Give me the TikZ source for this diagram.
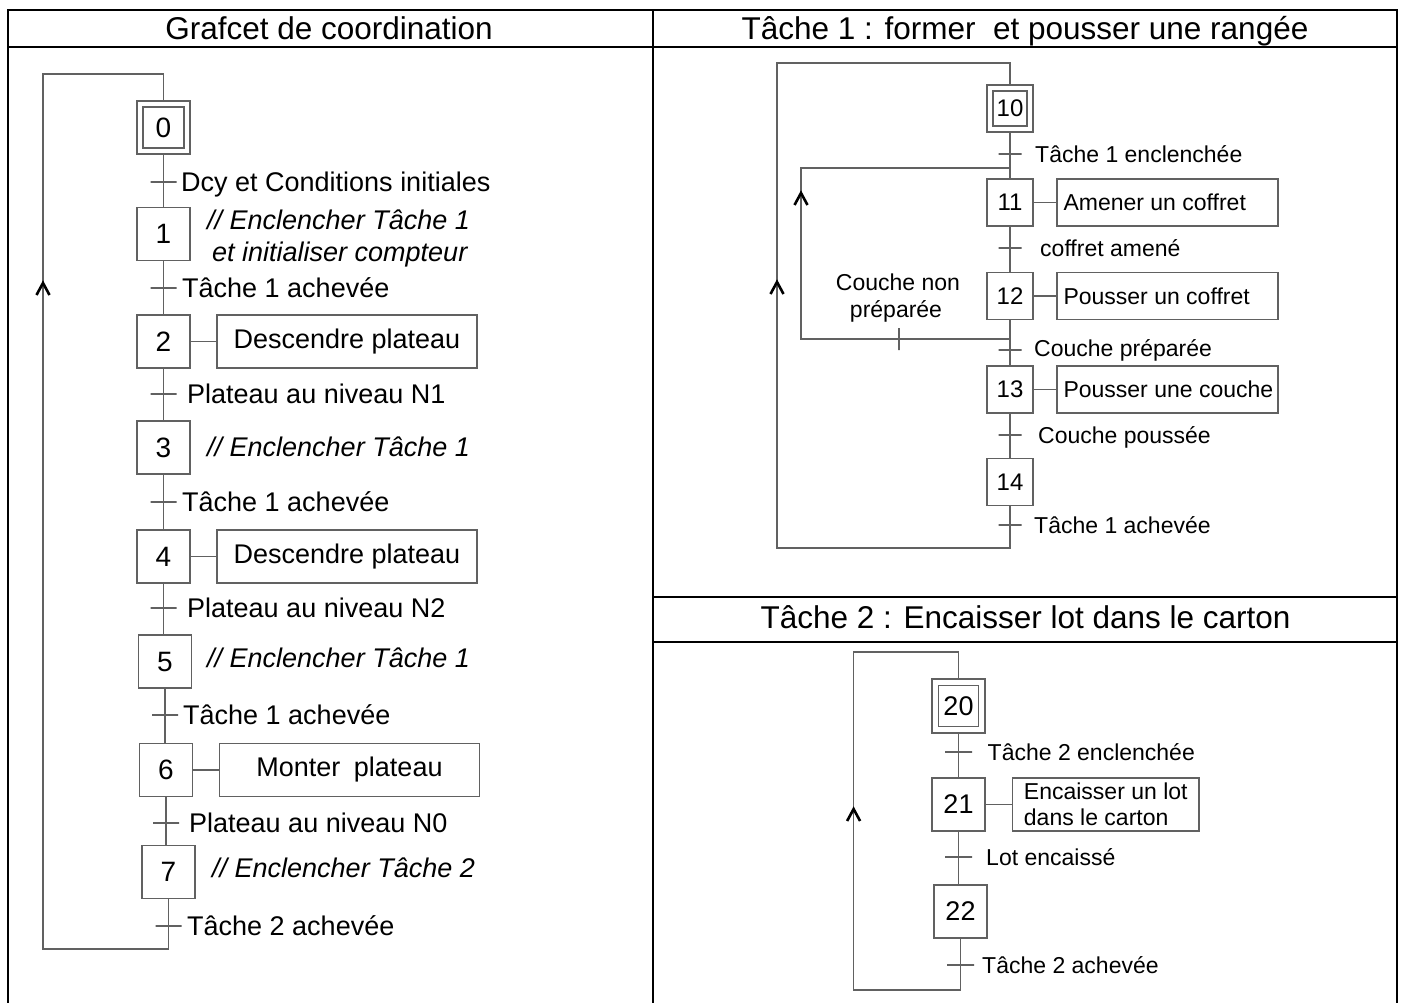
\documentclass[tikz,border=0pt]{standalone}
\usepackage{fontspec}
\setmainfont{Liberation Sans}
\newcommand\fsTitle{\fontsize{31.5}{36}\selectfont}
\newcommand\fsBig{\fontsize{27}{32}\selectfont}
\newcommand\fsNum{\fontsize{28}{32}\selectfont}
\newcommand\fsSmall{\fontsize{23}{26}\selectfont}
\newcommand\fsNumS{\fontsize{24}{26}\selectfont}
\newcommand\fsNumB{\fontsize{27}{30}\selectfont}
\begin{document}
\begin{tikzpicture}[x=1pt,y=-1pt,
  frame/.style={line width=2.6pt, draw=black, line cap=rect},
  lnk/.style={line width=1.3pt, draw=black!62},
  chev/.style={line width=2.6pt, draw=black, line join=miter},
  stepL/.style={lnk, draw, minimum width=53pt, minimum height=53pt, inner sep=0pt, font=\fsNum},
  innerbox/.style={path picture={\draw[lnk] ([shift={(#1,-#1)}]path picture bounding box.north west) rectangle ([shift={(-#1,#1)}]path picture bounding box.south east);}},
  initL/.style={stepL, innerbox=6pt},
  stepR/.style={lnk, draw, minimum width=46pt, minimum height=47pt, inner sep=0pt, font=\fsNumS},
  initR/.style={stepR, innerbox=6pt},
  stepB/.style={lnk, draw, minimum width=53pt, minimum height=53pt, inner sep=0pt, font=\fsNumB},
  initB/.style={stepB, minimum height=54pt, innerbox=6.5pt},
  trH/.style={lnk, draw, minimum width=#1, minimum height=0pt, inner sep=0pt, outer sep=0pt},
  trV/.style={lnk, draw, minimum width=0pt, minimum height=22pt, inner sep=0pt, outer sep=0pt},
  labL/.style={anchor=base west, font=\fsBig, inner sep=0pt},
  labR/.style={anchor=base west, font=\fsSmall, inner sep=0pt},
  actI/.style={anchor=base west, font=\fsBig\itshape, inner sep=0pt},
  actL/.style={lnk, draw, minimum width=260pt, minimum height=53pt, inner sep=0pt, font=\fsBig},
  actR/.style={lnk, draw, minimum width=221pt, minimum height=47pt, inner xsep=6.5pt, inner ysep=0pt, font=\fsSmall},
  actB/.style={lnk, draw, minimum width=186.5pt, minimum height=53pt, inner sep=0pt, align=left, font=\fsSmall},
  ttl/.style={anchor=base, font=\fsTitle, inner sep=0pt}
]
\useasboundingbox (0,0) rectangle (1402,1002);

% ---------- frame ----------
\draw[frame] (8,1012) -- (8,10) -- (1397,10) -- (1397,1012);
\draw[frame] (653,10) -- (653,1012);
\draw[frame] (8,47) -- (1397,47);
\draw[frame] (653,597) -- (1397,597);
\draw[frame] (653,642) -- (1397,642);

\node[ttl] (ttlA) at (329,39.5) {Grafcet de coordination};
\node[ttl] (ttlB) at (1025,39.5) {Tâche 1 : former\ \ et pousser une rangée};
\node[ttl] (ttlC) at (1025.5,628) {Tâche 2 : Encaisser lot dans le carton};

% ---------- Grafcet de coordination ----------
\node[initL] (s0) at (163.5,127.5) {0};
\node[stepL] (s1) at (163.5,234) {1};
\node[stepL] (s2) at (163.5,341.5) {2};
\node[stepL] (s3) at (163.5,447.5) {3};
\node[stepL] (s4) at (163.5,556.5) {4};
\node[stepL] (s5) at (165,661.5) {5};
\node[stepL] (s6) at (166,770) {6};
\node[stepL] (s7) at (168.5,872) {7};

\node[trH=26pt] (t0) at (163.5,182) {};
\node[trH=26pt] (t1) at (163.5,288) {};
\node[trH=26pt] (t2) at (163.5,394) {};
\node[trH=26pt] (t3) at (163.5,502) {};
\node[trH=26pt] (t4) at (163.5,608) {};
\node[trH=26pt] (t5) at (165,715) {};
\node[trH=26pt] (t6) at (166,823) {};
\node[trH=26pt] (t7) at (168.5,926) {};

\node[labL] (l0) at (181,191.5) {Dcy et Conditions initiales};
\node[labL] (l1) at (182,297.5) {Tâche 1 achevée};
\node[labL] (l2) at (187,403.5) {Plateau au niveau N1};
\node[labL] (l3) at (182,511.5) {Tâche 1 achevée};
\node[labL] (l4) at (187,617.5) {Plateau au niveau N2};
\node[labL] (l5) at (183,724.5) {Tâche 1 achevée};
\node[labL] (l6) at (189,832.5) {Plateau au niveau N0};
\node[labL] (l7) at (187,935.5) {Tâche 2 achevée};

\node[actI] (a1a) at (207,229.5) {// Enclencher Tâche 1};
\node[actI] (a1b) at (212,261.5) {et initialiser compteur};
\node[actL] (a2) at (347,341.5) {Descendre plateau};
\node[actI] (a3) at (207,456.5) {// Enclencher Tâche 1};
\node[actL] (a4) at (347,556.5) {Descendre plateau};
\node[actI] (a5) at (207,667.5) {// Enclencher Tâche 1};
\node[actL] (a6) at (349.5,770) {Monter\kern6pt\ plateau};
\node[actI] (a7) at (212,877.5) {// Enclencher Tâche 2};

\draw[lnk] (s2) -- (a2);
\draw[lnk] (s4) -- (a4);
\draw[lnk] (s6) -- (a6);

\draw[lnk] (s0) -- (t0) -- (s1);
\draw[lnk] (s1) -- (t1) -- (s2);
\draw[lnk] (s2) -- (t2) -- (s3);
\draw[lnk] (s3) -- (t3) -- (s4);
\draw[lnk] (s4) -- (t4) -- (t4 |- s5.north);
\draw[lnk] (s5) -- (t5) -- (t5 |- s6.north);
\draw[lnk] (s6) -- (t6) -- (t6 |- s7.north);
\draw[lnk] (s7) -- (t7);

\coordinate (LBL) at (43,949);
\coordinate (LAR) at (43,283);
\coordinate (LTL) at (43,74);
\draw[lnk] (t7) -- (t7 |- LBL) -- (LBL) -- (LAR) -- (LTL) -| (s0);
\draw[chev] ([shift={(-6.5pt,-12pt)}]LAR) -- (LAR) -- ([shift={(6.5pt,-12pt)}]LAR);

% ---------- Tâche 1 ----------
\node[initR] (s10) at (1010,108.5) {10};
\node[stepR] (s11) at (1010,202.5) {11};
\node[stepR] (s12) at (1010,296) {12};
\node[stepR] (s13) at (1010,389.5) {13};
\node[stepR] (s14) at (1010,482) {14};

\node[trH=23pt] (t10) at (1010,154) {};
\node[trH=23pt] (t11) at (1010,248) {};
\node[trH=23pt] (t12) at (1010,350) {};
\node[trH=23pt] (t13) at (1010,435) {};
\node[trH=23pt] (t14) at (1010,525) {};
\node[trV] (tNP) at (899,339) {};

\node[labR] (l10) at (1035,162.5) {Tâche 1 enclenchée};
\node[labR] (l11) at (1040,256.5) {coffret amené};
\node[labR] (l12) at (1034,356.5) {Couche préparée};
\node[labR] (l13) at (1038,443.5) {Couche poussée};
\node[labR] (l14) at (1034,533.5) {Tâche 1 achevée};
\node[anchor=base, font=\fsSmall, inner sep=0pt] (lNPa) at (898,290) {Couche non};
\node[anchor=base, font=\fsSmall, inner sep=0pt] (lNPb) at (896,317) {préparée};

\node[actR] (a11) at (1167.5,202.5) {\makebox[208pt][l]{Amener un coffret}};
\node[actR] (a12) at (1167.5,296) {\makebox[208pt][l]{Pousser un coffret}};
\node[actR] (a13) at (1167.5,389.5) {\makebox[208pt][l]{Pousser une couche}};
\draw[lnk] (s11) -- (a11);
\draw[lnk] (s12) -- (a12);
\draw[lnk] (s13) -- (a13);

\draw[lnk] (s10) -- (t10) -- (s11);
\draw[lnk] (s11) -- (t11) -- (s12);
\draw[lnk] (s12) -- (t12) -- (s13);
\draw[lnk] (s13) -- (t13) -- (s14);
\draw[lnk] (s14) -- (t14);

\coordinate (IBL) at (801,339);
\coordinate (IAR) at (801,193);
\coordinate (ITL) at (801,168);
\draw[lnk] (s12 |- IBL) -- (tNP) -- (IBL) -- (IAR) -- (ITL) -- (ITL -| s11);
\draw[chev] ([shift={(-6.5pt,-12pt)}]IAR) -- (IAR) -- ([shift={(6.5pt,-12pt)}]IAR);

\coordinate (RBL) at (777,548);
\coordinate (RAR) at (777,282);
\coordinate (RTL) at (777,63);
\draw[lnk] (t14) -- (t14 |- RBL) -- (RBL) -- (RAR) -- (RTL) -| (s10);
\draw[chev] ([shift={(-6.5pt,-12pt)}]RAR) -- (RAR) -- ([shift={(6.5pt,-12pt)}]RAR);

% ---------- Tâche 2 ----------
\node[initB] (s20) at (958.5,706) {20};
\node[stepB] (s21) at (958.5,804.5) {21};
\node[stepB] (s22) at (960.5,911.5) {22};

\node[trH=27pt] (t20) at (958.5,752) {};
\node[trH=27pt] (t21) at (958.5,857) {};
\node[trH=27pt] (t22) at (960.5,965) {};

\node[labR] (l20) at (987.5,760.5) {Tâche 2 enclenchée};
\node[labR] (l21) at (986,865.5) {Lot encaissé};
\node[labR] (l22) at (982,973.5) {Tâche 2 achevée};

\node[actB] (a21) at (1105.75,804.5) {Encaisser un lot\\dans le carton};
\draw[lnk] (s21) -- (a21);

\draw[lnk] (s20) -- (t20) -- (s21);
\draw[lnk] (s21) -- (t21) -- (t21 |- s22.north);
\draw[lnk] (s22) -- (t22);

\coordinate (BBL) at (853.6,990);
\coordinate (BAR) at (853.6,809);
\coordinate (BTL) at (853.6,652);
\draw[lnk] (t22) -- (t22 |- BBL) -- (BBL) -- (BAR) -- (BTL) -| (s20);
\draw[chev] ([shift={(-6.5pt,-12pt)}]BAR) -- (BAR) -- ([shift={(6.5pt,-12pt)}]BAR);
\end{tikzpicture}
\end{document}
